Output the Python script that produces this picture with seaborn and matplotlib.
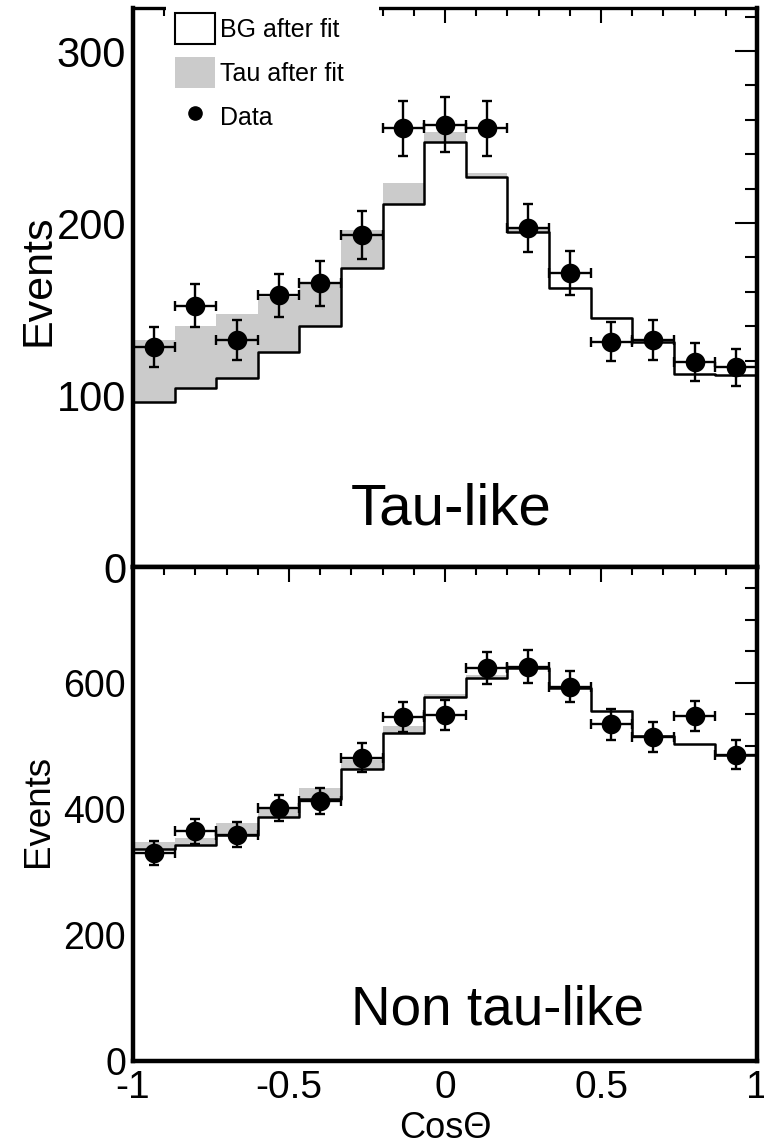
import numpy as np
import pandas as pd
import seaborn as sns
import matplotlib.pyplot as plt
from matplotlib.patches import Patch
from matplotlib.lines import Line2D
from matplotlib.ticker import MultipleLocator, FuncFormatter

# CosTheta binning: 15 bins between -1 and 1
edges = np.linspace(-1, 1, 16)
centers = (edges[:-1] + edges[1:]) / 2
half_w = (edges[1] - edges[0]) / 2

# tau-like sample
tau_like_data = [128, 152, 132, 158, 165, 193, 255, 257, 255, 197, 171, 131, 132, 119, 116]
tau_like_err = [11.5, 12.5, 11.5, 12.5, 13, 14, 16, 16, 16, 14, 13, 11.5, 11.5, 11, 11]
tau_like_bg = [96, 104, 110, 125, 140, 174, 211, 247, 226.5, 195, 162, 145, 131, 112.5, 111.5]
tau_like_tau = [36, 36, 37, 32, 25, 22, 12, 6, 2.5, 2, 1, 0.5, 0.5, 0, 0]

# non tau-like sample
non_tau_data = [330, 364, 359, 401, 412, 481, 546, 549, 623, 626, 594, 534, 514, 548, 486]
non_tau_err = [19, 20, 20, 21, 21, 23, 24, 24, 25.5, 25.5, 25, 24, 23.5, 24, 23]
non_tau_bg = [336, 342, 359, 387, 415, 464, 521, 578, 607, 624, 592.5, 555, 515, 503, 485]
non_tau_tau = [11, 11, 18, 13, 18, 14, 10, 5, 5, 2, 1.5, 1, 3, 0, 0]

GRAY = '#cbcbcb'

sns.set_style('white')
plt.rcParams['font.family'] = ['Liberation Sans', 'DejaVu Sans']
for key in ['text.color', 'axes.labelcolor', 'xtick.color', 'ytick.color']:
    plt.rcParams[key] = 'black'

plain = FuncFormatter(lambda v, pos: f'{v:g}')


def draw_panel(ax, data, err, bg, tau, ymax, ymajor, yminor, tick_size):
    df = pd.DataFrame({'cos': centers, 'bg': bg, 'total': np.add(bg, tau)})
    bins = edges.tolist()
    # BG + tau drawn in gray, BG on top in white so only the tau part stays gray
    sns.histplot(data=df, x='cos', weights='total', bins=bins, element='step',
                 fill=True, color=GRAY, alpha=1, linewidth=0, ax=ax)
    sns.histplot(data=df, x='cos', weights='bg', bins=bins, element='step',
                 fill=True, color='white', alpha=1, edgecolor='black',
                 linewidth=1.8, ax=ax)
    ax.errorbar(centers, data, xerr=half_w, yerr=err, fmt='none', ecolor='black',
                elinewidth=1.7, capsize=3.8, capthick=1.7, zorder=3)
    sns.scatterplot(x=centers, y=data, s=200, color='black', linewidth=0,
                    ax=ax, zorder=4)

    ax.set_xlim(-1, 1)
    ax.set_ylim(0, ymax)
    ax.xaxis.set_major_locator(MultipleLocator(0.5))
    ax.xaxis.set_minor_locator(MultipleLocator(0.1))
    ax.xaxis.set_major_formatter(plain)
    ax.yaxis.set_major_locator(MultipleLocator(ymajor))
    ax.yaxis.set_minor_locator(MultipleLocator(yminor))
    ax.tick_params(which='both', direction='in', top=True, right=True,
                   width=1.5, color='black')
    ax.tick_params(axis='x', which='major', length=10.5, pad=7, labelsize=28)
    ax.tick_params(axis='x', which='minor', length=5.5)
    ax.tick_params(axis='y', which='major', length=16, pad=5, labelsize=tick_size)
    ax.tick_params(axis='y', which='minor', length=8.5)
    for side in ['left', 'right', 'bottom', 'top']:
        ax.spines[side].set_linewidth(3.2)
        ax.spines[side].set_color('black')
    ax.set_xlabel('')


fig = plt.figure(figsize=(7.64, 11.45), dpi=100)
ax_top = fig.add_axes([0.1741, 0.5048, 0.8168, 0.4882])
ax_bot = fig.add_axes([0.1741, 0.0736, 0.8168, 0.4312])

draw_panel(ax_top, tau_like_data, tau_like_err, tau_like_bg, tau_like_tau,
           325, 100, 20, 30)
draw_panel(ax_bot, non_tau_data, non_tau_err, non_tau_bg, non_tau_tau,
           784, 200, 50, 27)

ax_top.spines['top'].set_linewidth(2.4)
ax_top.tick_params(axis='x', labelbottom=False)

ax_top.set_ylabel('Events', fontsize=31)
ax_top.yaxis.set_label_coords(-0.119, 0.513)
ax_bot.set_ylabel('Events', fontsize=26.5)
ax_bot.yaxis.set_label_coords(-0.123, 0.506)
ax_bot.set_xlabel('CosΘ', fontsize=26)
ax_bot.xaxis.set_label_coords(0.5, -0.101)

ax_top.text(0.02, 24.5, 'Tau-like', fontsize=42, ha='center', va='baseline')
ax_bot.text(0.167, 58, 'Non tau-like', fontsize=39.5, ha='center', va='baseline')

handles = [Patch(facecolor='white', edgecolor='black', linewidth=1.5),
           Patch(facecolor=GRAY, edgecolor='none'),
           Line2D([], [], marker='o', linestyle='none', color='black', markersize=9.5)]
ax_top.legend(handles, ['BG after fit', 'Tau after fit', 'Data'],
              loc='upper left', bbox_to_anchor=(0.053, 0, 0.341, 1.0072),
              mode='expand', borderaxespad=0, frameon=True, fancybox=False,
              framealpha=1, edgecolor='none', facecolor='white', fontsize=18,
              handlelength=1.6, handleheight=1.55, handletextpad=0.2,
              labelspacing=0.52, borderpad=0.35)

fig.savefig('out.png', dpi=100)
